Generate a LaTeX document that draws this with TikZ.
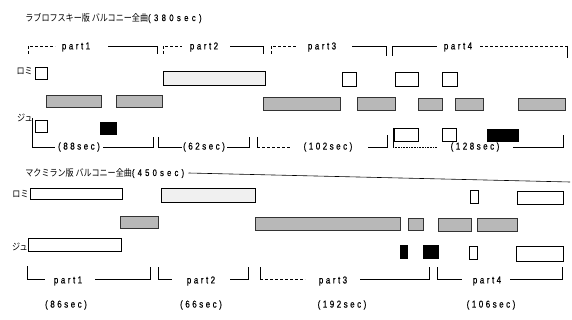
\documentclass[tikz,border=0pt]{standalone}
\usepackage{fontspec}
\newfontfamily\jpfont[FakeStretch=0.85]{Noto Sans CJK JP}
\newfontfamily\lblfont[FakeStretch=0.8,LetterSpace=25,FakeBold=0.6]{Liberation Sans}
\begin{document}
\begin{tikzpicture}[x=1pt, y=-1pt, line width=0.7pt,
    every node/.style={inner sep=0pt},
    wbox/.style={draw=black, fill=white},
    lbox/.style={draw=black, fill=black!6},
    sbox/.style={draw=black!80, fill=black!28},
    kbox/.style={draw=black, fill=black},
    brk/.style={line width=0.6pt},
    jp/.style={font=\jpfont\fontsize{9.5}{9.5}\selectfont},
    lb/.style={font=\lblfont\fontsize{10}{10}\selectfont}]
  \useasboundingbox (0,0) rectangle (572,320);

  % ==================== TOP CHART: LAVROVSKY (380sec) ====================
  \begin{scope}
    % title
    \node[jp, anchor=west] (t1) at (25,18) {ラブロフスキー版 バルコニー全曲{\lblfont\addfontfeatures{LetterSpace=36}(380sec)}};

    % part brackets (top)
    \draw[brk, densely dashed] (28,54) -- (28,46) -- (55,46);
    \node[lb] (a1) at (76,47) {part1};
    \draw[brk] (108,46) -- (157,46) -- (157,54);
    \draw[brk, densely dashed] (163,54) -- (163,46) -- (182,46);
    \node[lb] (a2) at (204,47) {part2};
    \draw[brk] (230,46) -- (263,46) -- (263,54);
    \draw[brk, densely dashed] (271,54) -- (271,46) -- (297,46);
    \node[lb] (a3) at (322,47) {part3};
    \draw[brk] (352,46) -- (386,46) -- (386,56);
    \draw[brk] (392,56) -- (392,46) -- (437,46);
    \node[lb] (a4) at (458,47) {part4};
    \draw[brk, densely dashed] (480,46) -- (567,46);
    \draw[brk] (567,46) -- (567,58);

    % row labels
    \node[jp, anchor=east] (r1) at (33,71) {ロミ};
    \node[jp, anchor=east] (j1) at (33,118) {ジュ};

    % ロミ
    \draw[wbox] (35,67) rectangle (47,79);
    \draw[lbox] (163,71) rectangle (265,85);
    \draw[wbox] (342,72) rectangle (356,86);
    \draw[wbox] (395,72) rectangle (418,86);
    \draw[wbox] (442,72) rectangle (457,86);

    % both (shaded)
    \draw[sbox] (46,95) rectangle (101,107);
    \draw[sbox] (116,95) rectangle (162,107);
    \draw[sbox] (263,97) rectangle (340,110);
    \draw[sbox] (357,97) rectangle (395,110);
    \draw[sbox] (418,98) rectangle (442,110);
    \draw[sbox] (455,98) rectangle (483,110);
    \draw[sbox] (518,98) rectangle (565,110);

    % ジュ
    \draw[wbox] (35,120) rectangle (47,132);
    \draw[kbox] (100,122) rectangle (116,134);
    \draw[wbox] (394,128) rectangle (418,141);
    \draw[wbox] (442,128) rectangle (456,141);
    \draw[kbox] (487,129) rectangle (518,141);

    % time brackets (bottom)
    \draw[brk] (32,118) -- (32,147) -- (55,147);
    \node[lb] (s1) at (79,147) {(88sec)};
    \draw[brk] (103,147) -- (153,147) -- (153,137);
    \draw[brk] (158,137) -- (158,147) -- (182,147);
    \node[lb] (s2) at (204,147) {(62sec)};
    \draw[brk] (227,147) -- (249,147) -- (249,137);
    \draw[brk] (257,137) -- (257,147);
    \draw[brk, densely dashed] (257,147) -- (290,147);
    \node[lb] (s3) at (328,147) {(102sec)};
    \draw[brk] (368,147) -- (387,147) -- (387,135);
    \draw[brk] (393,128) -- (393,147);
    \draw[brk, densely dotted] (393,147) -- (437,147);
    \node[lb] (s4) at (475,147) {(128sec)};
    \draw[brk] (513,147) -- (563,147) -- (563,135);
  \end{scope}

  % ==================== BOTTOM CHART: MACMILLAN (450sec) ====================
  \begin{scope}
    % title + rule
    \node[jp, anchor=west] (t2) at (25,173) {マクミラン版 バルコニー全曲{\lblfont\addfontfeatures{LetterSpace=34}(450sec)}};
    \draw[brk] ([xshift=4pt]t2.east) -- (570,182);

    % row labels
    \node[jp, anchor=east] (r2) at (29,194) {ロミ};
    \node[jp, anchor=east] (j2) at (28,247) {ジュ};

    % ロミ
    \draw[wbox] (30,188) rectangle (122,199);
    \draw[lbox] (161,188) rectangle (255,202);
    \draw[wbox] (470,190) rectangle (478,203);
    \draw[wbox] (517,191) rectangle (563,204);

    % both (shaded)
    \draw[sbox] (120,216) rectangle (158,228);
    \draw[sbox] (255,217) rectangle (400,230);
    \draw[sbox] (408,218) rectangle (423,230);
    \draw[sbox] (438,218) rectangle (471,231);
    \draw[sbox] (477,218) rectangle (517,231);

    % ジュ
    \draw[wbox] (28,238) rectangle (121,251);
    \draw[kbox] (400,245) rectangle (407,258);
    \draw[kbox] (423,245) rectangle (438,258);
    \draw[wbox] (469,246) rectangle (477,259);
    \draw[wbox] (516,246) rectangle (563,261);

    % part brackets
    \draw[brk] (27,266) -- (27,279) -- (45,279);
    \node[lb] (b1) at (68,281) {part1};
    \draw[brk] (95,279) -- (150,279) -- (150,267);
    \draw[brk] (158,267) -- (158,279) -- (172,279);
    \node[lb] (b2) at (201,281) {part2};
    \draw[brk] (230,279) -- (248,279) -- (248,267);
    \draw[brk] (260,267) -- (260,279);
    \draw[brk, densely dashed] (260,279) -- (305,279);
    \node[lb] (b3) at (333,281) {part3};
    \draw[brk] (360,279) -- (429,279) -- (429,267);
    \draw[brk] (437,267) -- (437,279) -- (462,279);
    \node[lb] (b4) at (487,281) {part4};
    \draw[brk] (510,279) -- (562,279) -- (562,267);

    % durations
    \node[lb] (c1) at (66,305) {(86sec)};
    \node[lb] (c2) at (201,305) {(66sec)};
    \node[lb] (c3) at (342,305) {(192sec)};
    \node[lb] (c4) at (491,305) {(106sec)};
  \end{scope}
\end{tikzpicture}
\end{document}
